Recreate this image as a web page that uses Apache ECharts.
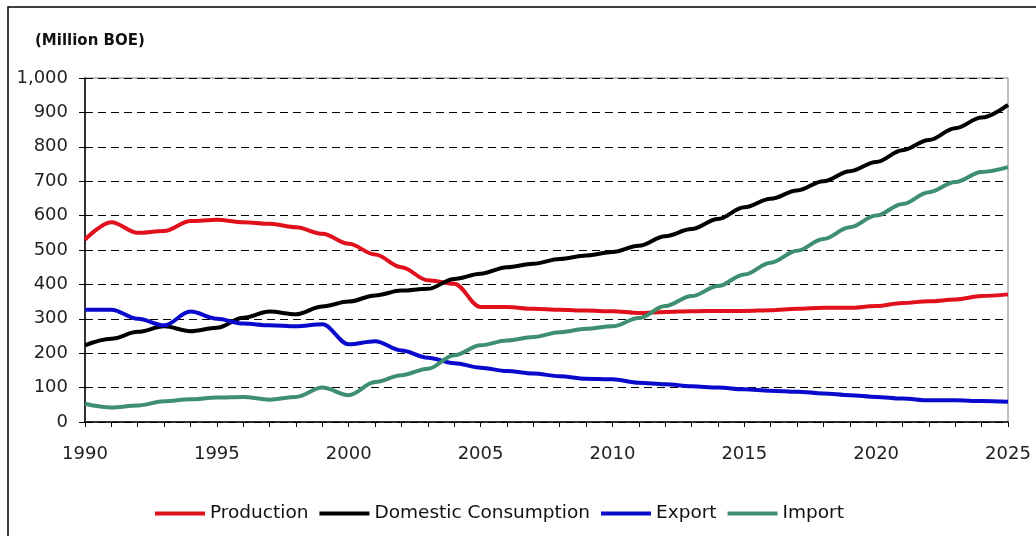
<!DOCTYPE html>
<html>
<head>
<meta charset="utf-8">
<script src="https://cdn.jsdelivr.net/npm/echarts@6/dist/echarts.min.js"></script>
<style>
  html, body { margin: 0; padding: 0; background: #fff; }
  #chart { width: 1036px; height: 536px; }
</style>
</head>
<body>
<div id="chart"></div>
<script>
// Years on the horizontal axis
const years = [];
for (let y = 1990; y <= 2025; y++) years.push(String(y));

// Million BOE, one value per year 1990-2025
const production = [530, 581, 550, 555, 584, 588, 581, 576, 566, 547, 518, 487, 450, 412, 402, 334, 334, 329, 326, 324, 322, 317, 320, 322, 323, 323, 325, 329, 332, 332, 337, 346, 351, 356, 366, 371];
const consumption = [223, 242, 262, 278, 264, 274, 303, 321, 313, 336, 350, 368, 382, 387, 416, 431, 450, 460, 474, 484, 494, 512, 540, 561, 590, 624, 649, 673, 700, 729, 756, 790, 820, 854, 885, 922];
const exportVol = [326, 326, 300, 281, 321, 300, 286, 281, 278, 284, 226, 235, 208, 187, 171, 158, 148, 141, 133, 126, 124, 114, 110, 104, 100, 95, 91, 88, 83, 78, 73, 68, 63, 63, 61, 59];
const importVol = [53, 42, 48, 60, 66, 71, 73, 65, 73, 100, 78, 116, 136, 155, 194, 223, 237, 247, 261, 271, 278, 302, 337, 366, 395, 429, 463, 498, 532, 566, 600, 634, 668, 698, 727, 741];

const seriesNames = ['Production', 'Domestic Consumption', 'Export', 'Import'];
const seriesColors = ['#e0101c', '#000000', '#0a0acd', '#3d8f6f'];
const seriesData = [production, consumption, exportVol, importVol];

const FONT = 'DejaVu Sans';

const chart = echarts.init(document.getElementById('chart'), null, { renderer: 'canvas' });

chart.setOption({
  backgroundColor: '#ffffff',
  animation: false,
  graphic: [
    {
      type: 'rect',
      shape: { x: 8, y: 7, width: 1200, height: 700 },
      style: { fill: 'none', stroke: '#000', lineWidth: 1.5 },
      silent: true
    },
    {
      type: 'text',
      left: 35,
      top: 34,
      style: { text: '(Million BOE)', font: 'bold 15px "' + FONT + '"', fill: '#111' }
    }
  ],
  legend: {
    left: 155,
    top: 504,
    padding: 0,
    icon: 'rect',
    itemWidth: 50,
    itemHeight: 4,
    itemGap: 11,
    textStyle: { fontFamily: FONT, fontSize: 18.5, color: '#111' },
    data: seriesNames
  },
  grid: {
    left: 85,
    right: 28,
    top: 78,
    bottom: 114,
    show: true,
    borderColor: '#808080',
    borderWidth: 1,
    containLabel: false
  },
  xAxis: {
    type: 'category',
    data: years,
    boundaryGap: false,
    axisLine: { lineStyle: { color: '#000', width: 1.5 } },
    axisTick: { show: true, interval: 0, length: 5, lineStyle: { color: '#000' } },
    axisLabel: {
      interval: 4,
      margin: 23,
      fontFamily: FONT,
      fontSize: 18,
      color: '#222'
    },
    splitLine: { show: false }
  },
  yAxis: {
    type: 'value',
    min: 0,
    max: 1000,
    interval: 100,
    axisLine: { show: true, lineStyle: { color: '#000', width: 1.5 } },
    axisTick: { show: true, length: 6, lineStyle: { color: '#000' } },
    axisLabel: {
      margin: 17,
      fontFamily: FONT,
      fontSize: 18,
      color: '#222',
      formatter: v => v.toLocaleString('en-US')
    },
    splitLine: { show: true, lineStyle: { color: '#000', type: [8, 5], width: 1 } }
  },
  series: seriesNames.map((name, i) => ({
    name,
    type: 'line',
    data: seriesData[i],
    smooth: 0.35,
    smoothMonotone: 'x',
    showSymbol: false,
    symbol: 'none',
    lineStyle: { color: seriesColors[i], width: 4 },
    itemStyle: { color: seriesColors[i] },
    z: 3 + i
  }))
});
</script>
</body>
</html>
